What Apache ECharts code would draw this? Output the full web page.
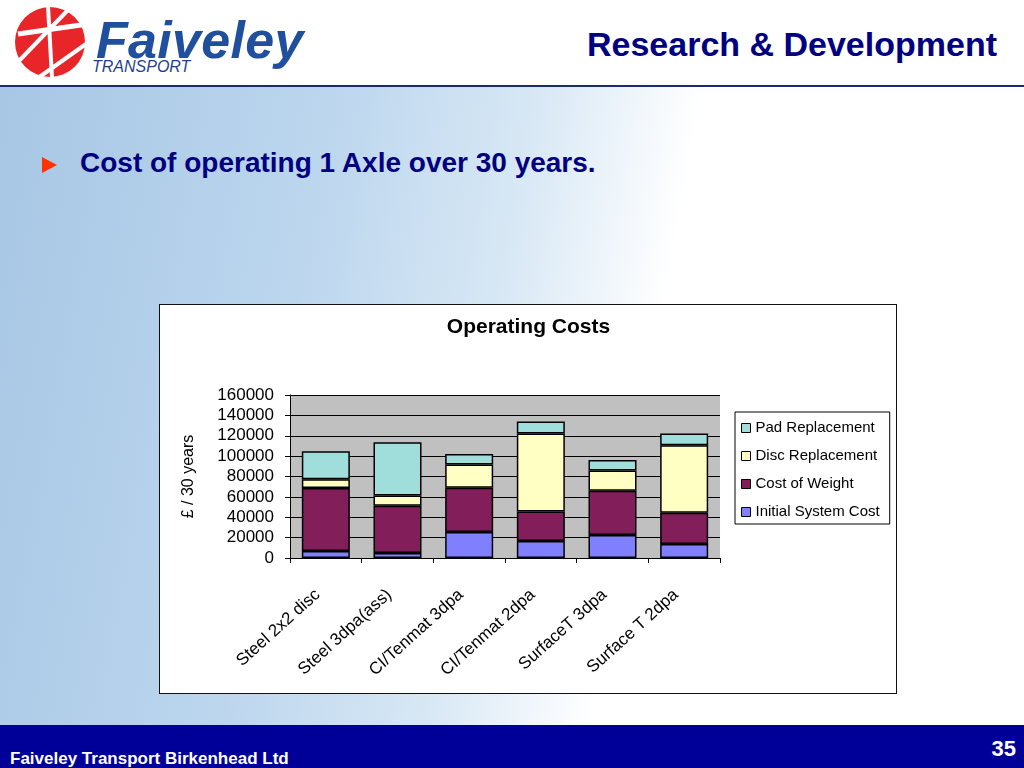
<!DOCTYPE html>
<html>
<head>
<meta charset="utf-8">
<script src="https://cdn.jsdelivr.net/npm/echarts@6/dist/echarts.min.js"></script>
<style>
  html, body { margin: 0; padding: 0; }
  body { width: 1024px; height: 768px; position: relative; overflow: hidden; font-family: "Liberation Sans", Arial, sans-serif;
    background: linear-gradient(100deg, #a6c6e4 0%, #bcd6ee 30%, #d8e8f5 48%, #ffffff 62%, #ffffff 100%); }
  .t { position: absolute; line-height: 1; white-space: nowrap; }
  #header { position: absolute; left: 0; top: 0; width: 1024px; height: 85px; background: #fff; border-bottom: 2px solid #1c2a70; }
  #rdtitle { right: 27px; top: 27px; font-size: 34px; font-weight: bold; color: #000080; }
  #brand { left: 96px; top: 14px; font-size: 52px; font-weight: bold; font-style: italic; color: #1f4f9d; letter-spacing: 0.3px; }
  #brand2 { left: 92px; top: 59px; font-size: 16px; font-style: italic; color: #1f3f8d; }
  #bullet { position: absolute; left: 42px; top: 157px; width: 0; height: 0; border-top: 8px solid transparent; border-bottom: 8px solid transparent; border-left: 15px solid #ff3300; }
  #subtitle { left: 80px; top: 149px; font-size: 28px; font-weight: bold; color: #000080; }
  #footer { position: absolute; left: 0; top: 725px; width: 1024px; height: 43px; background: #000099; }
  #ftext { left: 10px; top: 750px; font-size: 17px; font-weight: bold; color: #fff; }
  #pnum { right: 8px; top: 738px; font-size: 22px; font-weight: bold; color: #fff; }
  #chart { position: absolute; left: 160px; top: 305px; width: 737px; height: 389px; background: #fff; }
  #chartborder { position: absolute; left: 159px; top: 304px; width: 736px; height: 388px; border: 1.5px solid #111; pointer-events: none; }
</style>
</head>
<body>
<div id="header"></div>
<svg style="position:absolute;left:8px;top:4px" width="84" height="76" viewBox="0 0 84 76">
  <circle cx="42" cy="38" r="35" fill="#e8262a"/>
  <path d="M10 30 L80 20" stroke="#fff" stroke-width="5"/>
  <path d="M40 2 L44 74" stroke="#fff" stroke-width="4"/>
  <path d="M8 60 L60 6" stroke="#fff" stroke-width="4"/>
  <path d="M30 74 L78 40" stroke="#fff" stroke-width="4"/>
</svg>
<div id="brand" class="t">Faiveley</div>
<div id="brand2" class="t">TRANSPORT</div>
<div id="rdtitle" class="t">Research &amp; Development</div>
<div id="bullet"></div>
<div id="subtitle" class="t">Cost of operating 1 Axle over 30 years.</div>
<div id="chart"></div>
<div id="chartborder"></div>
<div id="footer"></div>
<div id="ftext" class="t">Faiveley Transport Birkenhead Ltd</div>
<div id="pnum" class="t">35</div>
<script>
const categories = ['Steel 2x2 disc', 'Steel 3dpa(ass)', 'CI/Tenmat 3dpa', 'CI/Tenmat 2dpa', 'SurfaceT 3dpa', 'Surface T 2dpa'];
const initialSystemCost = [6900, 4900, 25500, 16700, 22500, 13700];
const costOfWeight = [61700, 46400, 43400, 29000, 43400, 30700];
const discReplacement = [8800, 10100, 22900, 76400, 19900, 66300];
const padReplacement = [27400, 52200, 10400, 11800, 10500, 11400];
const yTicks = [0, 20000, 40000, 60000, 80000, 100000, 120000, 140000, 160000];

const chart = echarts.init(document.getElementById('chart'));
const font = '"Liberation Sans", Arial, sans-serif';
function bar(name, data, color) {
  return { name: name, type: 'bar', stack: 'total', data: data, barCategoryGap: '33%',
    itemStyle: { color: color, borderColor: '#000', borderWidth: 1.5 } };
}
chart.setOption({
  animation: false,
  title: { text: 'Operating Costs', left: 'center', top: 7,
    textStyle: { fontFamily: font, fontSize: 21, fontWeight: 'bold', color: '#000' } },
  legend: {
    orient: 'vertical', left: 575, top: 107,
    data: ['Pad Replacement', 'Disc Replacement', 'Cost of Weight', 'Initial System Cost'],
    itemWidth: 9, itemHeight: 9, itemGap: 10,
    padding: [7, 10, 3, 6],
    borderColor: '#000', borderWidth: 1,
    icon: 'rect',
    itemStyle: { borderColor: '#000', borderWidth: 1 },
    textStyle: { fontFamily: font, fontSize: 15, color: '#000', lineHeight: 18 }
  },
  grid: { left: 130, right: 177, top: 90, bottom: 136, show: true, backgroundColor: '#c0c0c0', borderWidth: 0 },
  xAxis: {
    type: 'category', data: categories,
    axisLine: { lineStyle: { color: '#000', width: 1 } },
    axisTick: { show: true, length: 5, lineStyle: { color: '#000' } },
    axisLabel: { rotate: 42, fontFamily: font, fontSize: 17, color: '#000', margin: 27, padding: [0, 11, 0, 0], interval: 0 }
  },
  yAxis: {
    type: 'value', min: yTicks[0], max: yTicks[yTicks.length - 1], interval: 20000,
    name: '£ / 30 years', nameLocation: 'middle', nameGap: 93, nameRotate: 90,
    nameTextStyle: { fontFamily: font, fontSize: 16, color: '#000' },
    axisLine: { show: true, lineStyle: { color: '#000', width: 1 } },
    axisTick: { show: true, length: 5, lineStyle: { color: '#000' } },
    splitLine: { lineStyle: { color: '#000', width: 1 } },
    axisLabel: { fontFamily: font, fontSize: 17, color: '#000', margin: 16, formatter: function (v) { return String(v); } }
  },
  series: [
    bar('Initial System Cost', initialSystemCost, '#8080ff'),
    bar('Cost of Weight', costOfWeight, '#821e5a'),
    bar('Disc Replacement', discReplacement, '#ffffc4'),
    bar('Pad Replacement', padReplacement, '#a0dedc')
  ]
});
</script>
</body>
</html>
